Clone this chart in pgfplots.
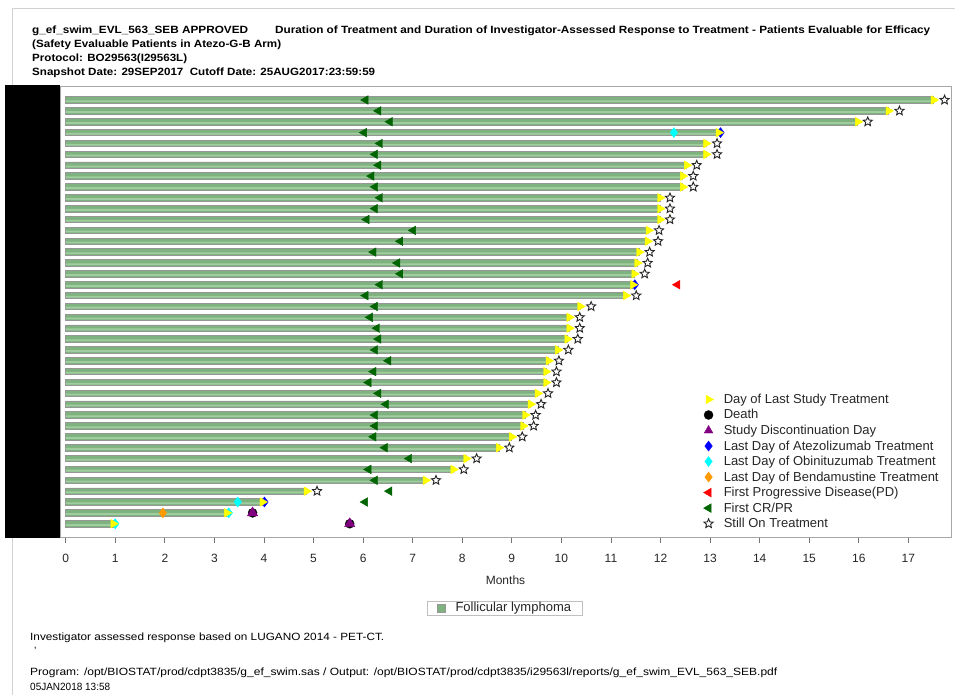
\documentclass[border=0pt]{standalone}
\usepackage{graphicx}
\usepackage{pgfplots}
\pgfplotsset{compat=1.18}
\usepackage{fontspec}
\setmainfont{Liberation Sans}
\definecolor{barfill}{RGB}{126,178,126}
\definecolor{barlight}{RGB}{160,205,160}
\definecolor{bardraw}{RGB}{150,150,150}
\definecolor{crgreen}{RGB}{0,100,0}
\definecolor{lastyellow}{RGB}{255,255,0}
\definecolor{purp}{RGB}{128,0,128}
\definecolor{orng}{RGB}{255,153,0}
\definecolor{atezo}{RGB}{0,0,255}
\definecolor{obin}{RGB}{0,255,255}
\pgfdeclareplotmark{ostar}{%
 \pgfpathmoveto{\pgfpointpolar{90}{\pgfplotmarksize}}%
 \pgfpathlineto{\pgfpointpolar{126}{0.45\pgfplotmarksize}}%
 \pgfpathlineto{\pgfpointpolar{162}{\pgfplotmarksize}}%
 \pgfpathlineto{\pgfpointpolar{198}{0.45\pgfplotmarksize}}%
 \pgfpathlineto{\pgfpointpolar{234}{\pgfplotmarksize}}%
 \pgfpathlineto{\pgfpointpolar{270}{0.45\pgfplotmarksize}}%
 \pgfpathlineto{\pgfpointpolar{306}{\pgfplotmarksize}}%
 \pgfpathlineto{\pgfpointpolar{342}{0.45\pgfplotmarksize}}%
 \pgfpathlineto{\pgfpointpolar{18}{\pgfplotmarksize}}%
 \pgfpathlineto{\pgfpointpolar{54}{0.45\pgfplotmarksize}}%
 \pgfpathclose
 \pgfusepathqfillstroke}
\pgfplotstableread[row sep=\\]{
r x \\ 1 17.51 \\ 2 16.60 \\ 3 15.98 \\ 4 13.17 \\ 5 12.92 \\ 6 12.92 \\ 7 12.53 \\ 8 12.45 \\
9 12.45 \\ 10 11.99 \\ 11 11.99 \\ 12 11.99 \\ 13 11.76 \\ 14 11.74 \\ 15 11.57 \\ 16 11.53 \\
17 11.47 \\ 18 11.44 \\ 19 11.30 \\ 20 10.38 \\ 21 10.16 \\ 22 10.16 \\ 23 10.12 \\ 24 9.93 \\
25 9.74 \\ 26 9.69 \\ 27 9.69 \\ 28 9.52 \\ 29 9.38 \\ 30 9.27 \\ 31 9.23 \\ 32 9.00 \\
33 8.74 \\ 34 8.08 \\ 35 7.82 \\ 36 7.26 \\ 37 4.86 \\ 38 3.97 \\ 39 3.25 \\ 40 0.96 \\
}\durtab
\begin{document}
\begin{tikzpicture}
\useasboundingbox (0,0) rectangle (955pt,695pt);
% faint outer border
\draw[black!18, line width=0.6pt] (12pt,0pt) -- (12pt,687pt) -- (955pt,687pt);
% header
\begin{scope}[every node/.style={anchor=base west, inner sep=0pt, font=\fontsize{10.5}{12}\selectfont\bfseries, text=black}]
\node at (32pt,661pt) {\resizebox{216pt}{\height}{g\_ef\_swim\_EVL\_563\_SEB APPROVED}};
\node at (275pt,661pt) {\resizebox{655pt}{\height}{Duration of Treatment and Duration of Investigator-Assessed Response to Treatment - Patients Evaluable for Efficacy}};
\node at (32pt,647pt) {\resizebox{249pt}{\height}{(Safety Evaluable Patients in Atezo-G-B Arm)}};
\node at (32pt,633pt) {\resizebox{155pt}{\height}{Protocol: BO29563(I29563L)}};
\node at (32pt,619pt) {\resizebox{343pt}{\height}{Snapshot Date: 29SEP2017\ \ Cutoff Date: 25AUG2017:23:59:59}};
\end{scope}
\begin{axis}[
  at={(60pt,158pt)}, anchor=south west, scale only axis,
  width=891pt, height=451pt,
  xmin=-0.115, xmax=17.86, ymin=-0.29, ymax=41.22, y dir=reverse,
  xtick={0,1,...,17}, ytick=\empty,
  xtick pos=left, tick align=outside, major tick length=6pt,
  axis line style={black!35, line width=0.8pt},
  tick style={black!55, line width=0.7pt},
  /pgf/number format/assume math mode=true,
  xticklabel style={font=\fontsize{12}{14}\selectfont, text=black!85, yshift=-8pt},
  xlabel={Months},
  xlabel style={font=\fontsize{12}{14}\selectfont, text=black!85, at={(axis description cs:0.5,0)}, anchor=center, yshift=-43pt},
  clip=false,
  legend cell align=left,
  legend image code/.code={\draw[#1] plot coordinates {(6pt,0pt)}; \path (0pt,0pt) (20pt,0pt);},
  legend style={draw=none, fill=none, at={(axis cs:12.84,27.95)}, anchor=north west,
    font=\fontsize{13}{15}\selectfont, text=black!85, inner sep=0pt, row sep=2.6pt,
    nodes={inner sep=1pt}},
]
\addlegendimage{only marks, mark=triangle*, mark size=5pt, mark options={rotate=-90, fill=lastyellow, draw=lastyellow}}
\addlegendentry{Day of Last Study Treatment}
\addlegendimage{only marks, mark=*, mark size=4.5pt, mark options={fill=black, draw=black}}
\addlegendentry{Death}
\addlegendimage{only marks, mark=triangle*, mark size=5pt, mark options={fill=purp, draw=purp}}
\addlegendentry{Study Discontinuation Day}
\addlegendimage{only marks, mark=diamond*, mark size=5pt, mark options={fill=atezo, draw=atezo}}
\addlegendentry{Last Day of Atezolizumab Treatment}
\addlegendimage{only marks, mark=diamond*, mark size=5pt, mark options={fill=obin, draw=obin}}
\addlegendentry{Last Day of Obinituzumab Treatment}
\addlegendimage{only marks, mark=diamond*, mark size=5pt, mark options={fill=orng, draw=orng}}
\addlegendentry{Last Day of Bendamustine Treatment}
\addlegendimage{only marks, mark=triangle*, mark size=5pt, mark options={rotate=90, fill=red, draw=red}}
\addlegendentry{First Progressive Disease(PD)}
\addlegendimage{only marks, mark=triangle*, mark size=5pt, mark options={rotate=90, fill=crgreen, draw=crgreen}}
\addlegendentry{First CR/PR}
\addlegendimage{only marks, mark=ostar, mark size=4.8pt, mark options={fill=white, draw=black!85, line width=0.9pt}}
\addlegendentry{Still On Treatment}
% bars
\addplot[forget plot, xbar, bar width=6.5pt, fill=barfill, draw=bardraw, line width=0.8pt] table[x=x, y=r] {\durtab};
\addplot[forget plot, xbar, bar width=1.8pt, bar shift=-1.2pt, fill=barlight, draw=none] table[x=x, y=r] {\durtab};
% Obinutuzumab
\addplot[forget plot, only marks, mark=diamond*, mark size=5pt, mark options={fill=obin, draw=obin}] table[x=x, y=r, row sep=\\] {
r x \\ 4 12.27 \\ 38 3.47 \\ 39 3.29 \\ 40 1.00 \\
};
% Bendamustine
\addplot[forget plot, only marks, mark=diamond*, mark size=5pt, mark options={fill=orng, draw=orng}] table[x=x, y=r, row sep=\\] {
r x \\ 39 1.96 \\
};
% Atezolizumab
\addplot[forget plot, only marks, mark=diamond*, mark size=5pt, mark options={fill=atezo, draw=atezo}] table[x=x, y=r, row sep=\\] {
r x \\ 4 13.21 \\ 18 11.48 \\ 38 4.01 \\
};
% Day of last study treatment
\addplot[forget plot, only marks, mark=triangle*, mark size=5pt, mark options={rotate=-90, fill=lastyellow, draw=lastyellow}] table[x=x, y=r] {\durtab};
% First CR/PR
\addplot[forget plot, only marks, mark=triangle*, mark size=5pt, mark options={rotate=90, fill=crgreen, draw=crgreen}] table[x=x, y=r, row sep=\\] {
r x \\ 1 6.05 \\ 2 6.31 \\ 3 6.54 \\ 4 6.02 \\ 5 6.34 \\ 6 6.24 \\ 7 6.31 \\ 8 6.17 \\
9 6.24 \\ 10 6.34 \\ 11 6.24 \\ 12 6.07 \\ 13 7.01 \\ 14 6.75 \\ 15 6.21 \\ 16 6.69 \\
17 6.75 \\ 18 6.34 \\ 19 6.05 \\ 20 6.24 \\ 21 6.14 \\ 22 6.28 \\ 23 6.31 \\ 24 6.24 \\
25 6.51 \\ 26 6.21 \\ 27 6.11 \\ 28 6.31 \\ 29 6.46 \\ 30 6.24 \\ 31 6.24 \\ 32 6.21 \\
33 6.44 \\ 34 6.93 \\ 35 6.11 \\ 36 6.24 \\ 37 6.53 \\ 38 6.04 \\
};
% First PD
\addplot[forget plot, only marks, mark=triangle*, mark size=5pt, mark options={rotate=90, fill=red, draw=red}] table[x=x, y=r, row sep=\\] {
r x \\ 18 12.34 \\
};
% Death
\addplot[forget plot, only marks, mark=*, mark size=4.5pt, mark options={fill=black, draw=black}] table[x=x, y=r, row sep=\\] {
r x \\ 39 3.77 \\ 40 5.73 \\
};
% Study discontinuation
\addplot[forget plot, only marks, mark=triangle*, mark size=6pt, mark options={fill=purp, draw=purp}] table[x=x, y=r, row sep=\\] {
r x \\ 39 3.77 \\ 40 5.73 \\
};
% Still on treatment
\addplot[forget plot, only marks, mark=ostar, mark size=4.8pt, mark options={fill=white, draw=black!85, line width=0.9pt}] table[x=x, y=r, row sep=\\] {
r x \\ 1 17.73 \\ 2 16.82 \\ 3 16.18 \\ 5 13.14 \\ 6 13.14 \\ 7 12.73 \\ 8 12.66 \\
9 12.66 \\ 10 12.19 \\ 11 12.19 \\ 12 12.19 \\ 13 11.97 \\ 14 11.95 \\ 15 11.78 \\ 16 11.74 \\
17 11.68 \\ 19 11.51 \\ 20 10.60 \\ 21 10.37 \\ 22 10.37 \\ 23 10.33 \\ 24 10.14 \\
25 9.95 \\ 26 9.90 \\ 27 9.90 \\ 28 9.73 \\ 29 9.59 \\ 30 9.48 \\ 31 9.44 \\ 32 9.21 \\
33 8.95 \\ 34 8.29 \\ 35 8.03 \\ 36 7.47 \\ 37 5.07 \\
};
\end{axis}
% redaction box over the y-axis labels
\fill[black] (5pt,157pt) rectangle (60pt,610pt);
% group legend
\begin{axis}[
  at={(505pt,87pt)}, anchor=center, scale only axis, width=10pt, height=10pt,
  hide axis, xmin=0, xmax=1, ymin=0, ymax=1,
  legend image code/.code={\draw[#1] (0pt,-4pt) rectangle (8pt,4pt); \path (0pt,0pt) (16pt,0pt);},
  legend style={at={(0.5,0.5)}, anchor=center, draw=black!25, fill=white,
    font=\fontsize{13}{15}\selectfont, text=black!85, inner xsep=10pt, inner ysep=0pt,
    nodes={inner sep=1.5pt}},
]
\addlegendimage{fill=barfill, draw=bardraw, line width=0.6pt}
\addlegendentry{Follicular lymphoma}
\end{axis}
% footnotes
\begin{scope}[every node/.style={anchor=base west, inner sep=0pt, font=\fontsize{10.5}{12}\selectfont, text=black}]
\node at (30pt,54pt) {\resizebox{354pt}{\height}{Investigator assessed response based on LUGANO 2014 - PET-CT.}};
\node at (34pt,40pt) {'};
\node at (30pt,19pt) {\resizebox{747pt}{\height}{Program: /opt/BIOSTAT/prod/cdpt3835/g\_ef\_swim.sas / Output: /opt/BIOSTAT/prod/cdpt3835/i29563l/reports/g\_ef\_swim\_EVL\_563\_SEB.pdf}};
\node at (30pt,4pt) {\resizebox{80pt}{\height}{05JAN2018 13:58}};
\end{scope}
\end{tikzpicture}
\end{document}
